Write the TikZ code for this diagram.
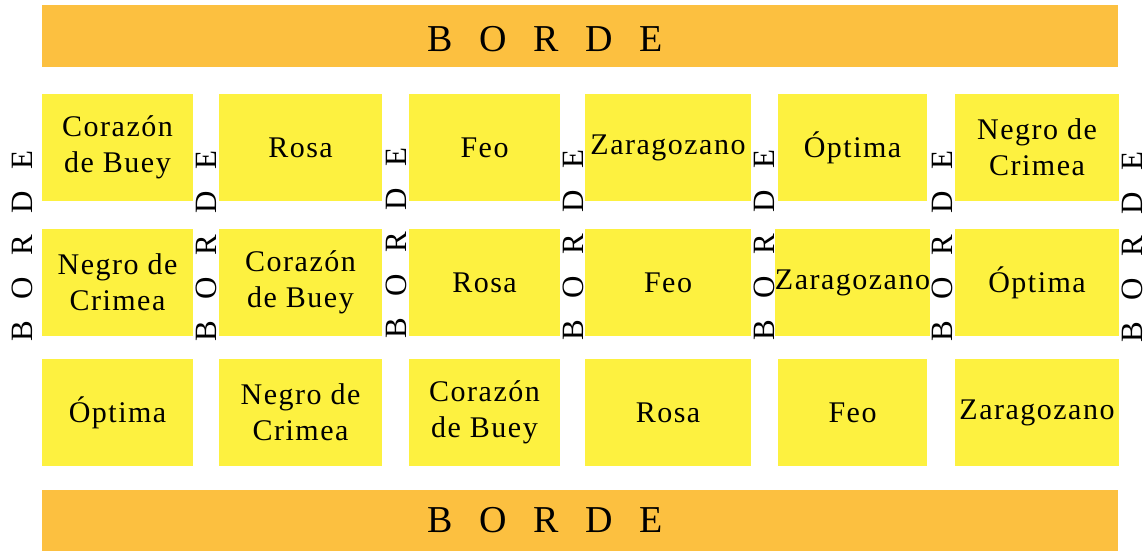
\documentclass[tikz,border=0pt]{standalone}
\usepackage{fontspec}
\setmainfont{Liberation Serif}
\newfontfamily\vegfont{Liberation Serif}[LetterSpace=5]
\usepackage{tikz}
\usetikzlibrary{calc,positioning}
\usepackage{xcolor}
\newcommand{\myunit}{0.5pt}
\newcommand{\bordeword}{B\hspace{0.7em}O\hspace{0.7em}R\hspace{0.7em}D\hspace{0.7em}E}
\tikzset{
    barsty/.style={fill=bargold,rectangle,inner sep=0pt,minimum width=1076*\myunit,anchor=center},
    bartextsty/.style={inner sep=0pt,anchor=center,font=\fontsize{19}{22}\selectfont},
    vegsty/.style={fill=vegyellow,rectangle,inner sep=0pt,minimum height=107*\myunit,align=center,anchor=center,font=\vegfont\fontsize{15}{18}\selectfont},
    sidesty/.style={rotate=90,inner sep=0pt,anchor=center,font=\fontsize{15.5}{18}\selectfont},
}
\definecolor{vegyellow}{RGB}{253,241,64}
\definecolor{bargold}{RGB}{252,192,64}

\begin{document}
\begin{tikzpicture}[x=\myunit,y=-\myunit]
\useasboundingbox (0,0) rectangle (1148,552);

% borders top and bottom
\node[barsty, minimum height=62*\myunit] (topbar) at (580,36) {};
\node[barsty, minimum height=61*\myunit] (botbar) at (580,520.5) {};
\node[bartextsty] (toptext) at (545.5,39) {\bordeword};
\node[bartextsty] (bottext) at (545.5,520) {\bordeword};

% first row
\node[vegsty, minimum width=151*\myunit] (A-1-1) at (117.5,147.5) {Corazón\\de Buey};
\node[vegsty, minimum width=163*\myunit] (A-1-2) at (300.5,147.5) {Rosa};
\node[vegsty, minimum width=151*\myunit] (A-1-3) at (484.5,147.5) {Feo};
\node[vegsty, minimum width=166*\myunit] (A-1-4) at (668,147.5) {Zaragozano};
\node[vegsty, minimum width=149*\myunit] (A-1-5) at (852.5,147.5) {Óptima};
\node[vegsty, minimum width=164*\myunit] (A-1-6) at (1037,147.5) {Negro de\\Crimea};

% second row
\node[vegsty, minimum width=151*\myunit] (A-2-1) at (117.5,282.5) {Negro de\\Crimea};
\node[vegsty, minimum width=163*\myunit] (A-2-2) at (300.5,282.5) {Corazón\\de Buey};
\node[vegsty, minimum width=151*\myunit] (A-2-3) at (484.5,282.5) {Rosa};
\node[vegsty, minimum width=166*\myunit] (A-2-4) at (668,282.5) {Feo};
\node[vegsty, minimum width=149*\myunit] (A-2-5) at (852.5,282.5) {Zaragozano};
\node[vegsty, minimum width=164*\myunit] (A-2-6) at (1037,282.5) {Óptima};

% third row
\node[vegsty, minimum width=151*\myunit] (A-3-1) at (117.5,412.5) {Óptima};
\node[vegsty, minimum width=163*\myunit] (A-3-2) at (300.5,412.5) {Negro de\\Crimea};
\node[vegsty, minimum width=151*\myunit] (A-3-3) at (484.5,412.5) {Corazón\\de Buey};
\node[vegsty, minimum width=166*\myunit] (A-3-4) at (668,412.5) {Rosa};
\node[vegsty, minimum width=149*\myunit] (A-3-5) at (852.5,412.5) {Feo};
\node[vegsty, minimum width=164*\myunit] (A-3-6) at (1037,412.5) {Zaragozano};

% side borders
\node[sidesty] (side0) at (22,246) {\bordeword};
\node[sidesty] (side1) at (206,246) {\bordeword};
\node[sidesty] (side2) at (396,243) {\bordeword};
\node[sidesty] (side3) at (573,245) {\bordeword};
\node[sidesty] (side4) at (764,245) {\bordeword};
\node[sidesty] (side5) at (942,246) {\bordeword};
\node[sidesty] (side6) at (1132.5,247) {\bordeword};
\end{tikzpicture}
\end{document}
